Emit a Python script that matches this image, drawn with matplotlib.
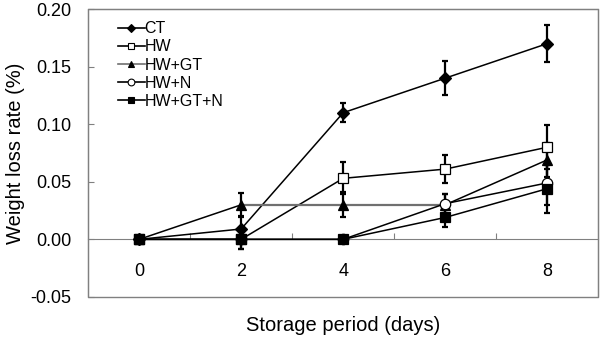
import numpy as np
import matplotlib.pyplot as plt
from matplotlib.patches import Rectangle

plt.rcParams['font.family'] = ['Liberation Sans', 'DejaVu Sans']

days = [0, 2, 4, 6, 8]

ct = [0.0, 0.009, 0.110, 0.140, 0.170]
ct_err = [0.0, 0.010, 0.008, 0.015, 0.016]

hw = [0.0, 0.0, 0.053, 0.061, 0.080]
hw_err = [0.0, 0.008, 0.014, 0.012, 0.019]

hw_gt = [0.0, 0.030, 0.030, 0.030, 0.069]
hw_gt_err = [0.0, 0.010, 0.011, 0.009, 0.015]

hw_n = [0.0, 0.0, 0.0, 0.031, 0.049]
hw_n_err = [0.0, 0.0, 0.0, 0.008, 0.019]

hw_gt_n = [0.0, 0.0, 0.0, 0.019, 0.044]
hw_gt_n_err = [0.0, 0.008, 0.0, 0.008, 0.021]

fig = plt.figure(figsize=(6, 3.37), dpi=100)
ax = fig.add_axes([0.147, 0.119, 0.85, 0.854])

series = [
    ("CT", ct, ct_err, "D", "black", "black", 6.5),
    ("HW", hw, hw_err, "s", "white", "black", 7.5),
    ("HW+GT", hw_gt, hw_gt_err, "^", "black", "#707070", 7.5),
    ("HW+N", hw_n, hw_n_err, "o", "white", "black", 7.5),
    ("HW+GT+N", hw_gt_n, hw_gt_n_err, "s", "black", "black", 7.5),
]

for name, vals, err, mk, face, lc, ms in series:
    ax.errorbar(days, vals, yerr=err, fmt="none", ecolor="black",
                elinewidth=1.6, capsize=2.5, capthick=1.6, zorder=2)
    # flat runs of the HW+GT line look grey in the original, slopes look black
    ax.plot(days, vals, color="black", lw=1.1, zorder=3)
    if lc != "black":
        for i in range(len(vals) - 1):
            if vals[i] == vals[i + 1] and vals[i] != 0:
                ax.plot(days[i:i + 2], vals[i:i + 2], color=lc, lw=1.6, zorder=3)
    ax.plot(days, vals, color=lc, lw=0, marker=mk, markersize=ms,
            markerfacecolor=face, markeredgecolor="black",
            markeredgewidth=0.9, zorder=4)
    ax.plot([], [], color=lc, lw=1.2, marker=mk, markersize=ms * 0.65,
            markerfacecolor=face, markeredgecolor="black",
            markeredgewidth=0.8, label=name)

ax.set_xlim(-1, 9)
ax.set_ylim(-0.05, 0.20)
ax.set_yticks(np.arange(-0.05, 0.201, 0.05))
ax.set_yticklabels([f"{v:.2f}" for v in np.arange(-0.05, 0.201, 0.05)])

# x axis crossing at zero, ticks between categories
for s in ["top", "right", "left"]:
    ax.spines[s].set_color("#808080")
ax.spines["bottom"].set_position(("data", 0))
ax.spines["bottom"].set_color("#808080")
ax.add_patch(Rectangle((0, 0), 1, 1, transform=ax.transAxes, fill=False,
                       edgecolor="#808080", lw=1.0, clip_on=False, zorder=5))

ax.set_xticks([1, 3, 5, 7])
ax.set_xticklabels([])
ax.set_xticks(days, minor=True)
ax.set_xticklabels([str(d) for d in days], minor=True)
ax.tick_params(axis="x", which="major", direction="in", length=4, color="#808080")
ax.tick_params(axis="x", which="minor", length=0, pad=17, labelsize=13)
ax.tick_params(axis="y", direction="in", length=4, color="#808080",
               labelsize=13, pad=12)

ax.set_xlabel("Storage period (days)", fontsize=14.5, labelpad=26)
ax.set_ylabel("Weight loss rate (%)", fontsize=14.5, labelpad=4)

ax.legend(loc="upper left", frameon=False, fontsize=11.5, handlelength=1.7,
          handletextpad=0.0, labelspacing=0.2, borderaxespad=0.0,
          bbox_to_anchor=(0.045, 0.98))

fig.savefig("out.png", dpi=100)
